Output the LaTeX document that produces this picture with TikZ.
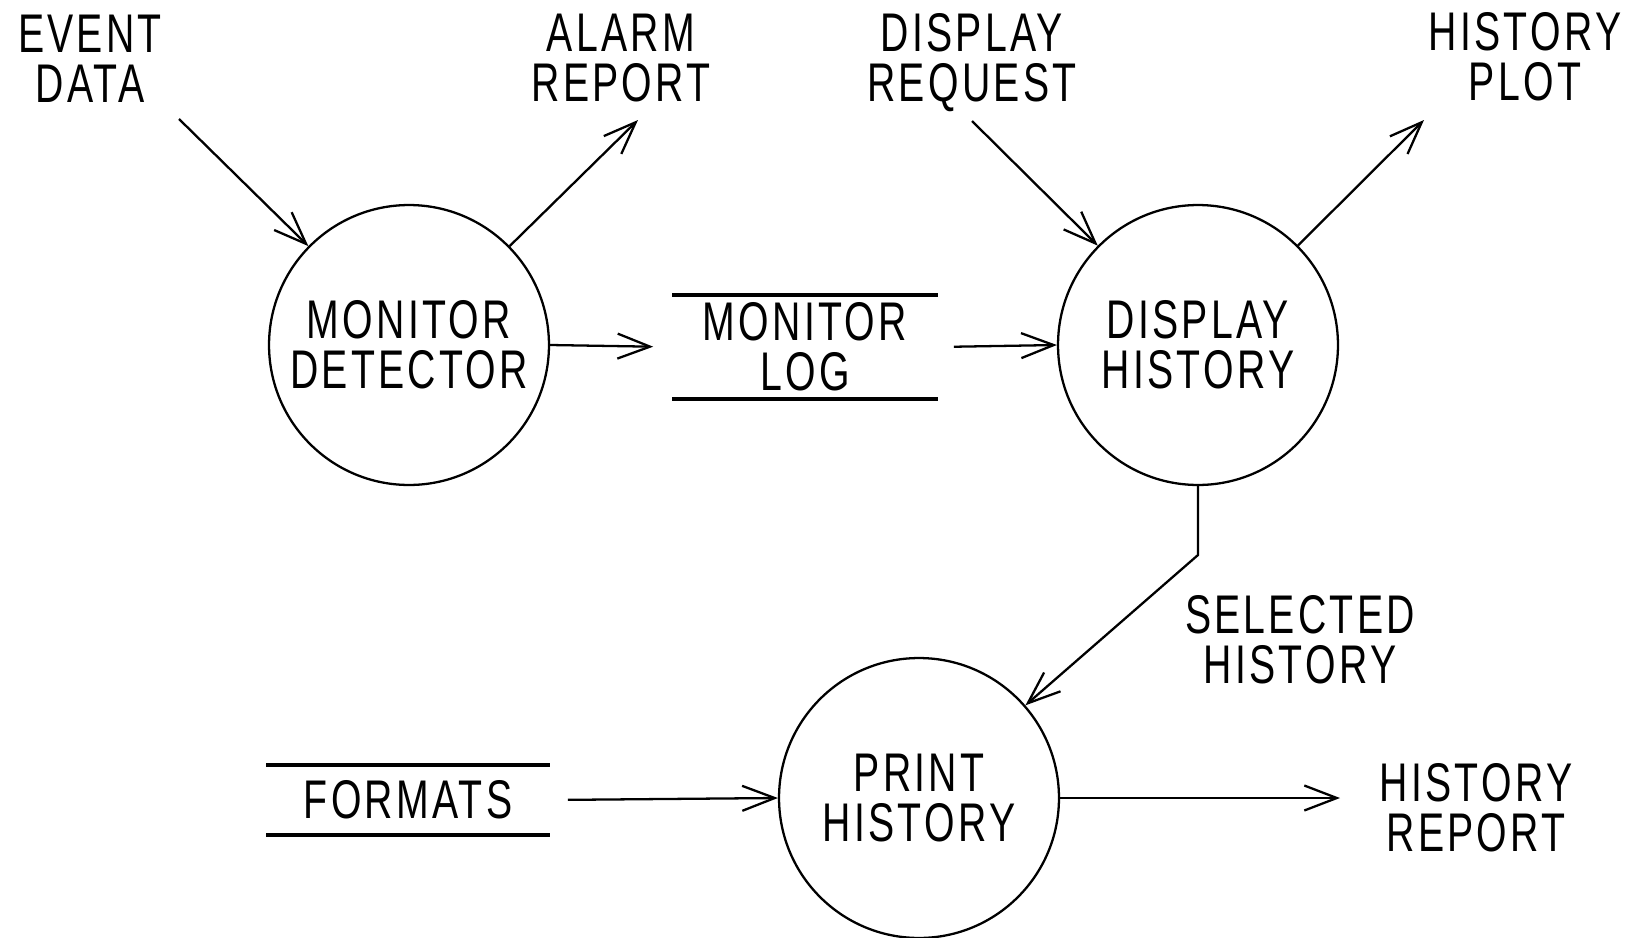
\documentclass[tikz,border=0pt]{standalone}
\usepackage{fontspec}
\setmainfont{Liberation Sans}[FakeStretch=0.72,LetterSpace=6]
\usetikzlibrary{arrows.meta}
\begin{document}
\begin{tikzpicture}[x=0.02cm,y=-0.02cm,
  every node/.style={font=\fontsize{31}{28.5}\selectfont, align=center, inner sep=0pt},
  proc/.style={circle, draw, line width=1.3pt, minimum size=5.6cm},
  store/.style={minimum width=5.3cm, minimum height=2.06cm},
  flow/.style={line width=1.3pt, -{Straight Barb[length=6.5mm,width=5mm,line width=1.3pt]}},
  rule/.style={line width=1.9pt}]
\useasboundingbox (0,0) rectangle (1647,937);

% processes
\node[proc] (mon) at (409,345) {MONITOR\\DETECTOR};
\node[proc] (disp) at (1198,345) {DISPLAY\\HISTORY};
\node[proc] (prt) at (919,798) {PRINT\\HISTORY};

% data stores
\node[store] (log) at (805,347) {MONITOR\\LOG};
\draw[rule] (log.north west) -- (log.north east);
\draw[rule] (log.south west) -- (log.south east);
\node[store, minimum width=5.66cm, minimum height=1.38cm] (fmt) at (408,800) {FORMATS};
\draw[rule] (fmt.north west) -- (fmt.north east);
\draw[rule] (fmt.south west) -- (fmt.south east);

% external flows
\node (ev) at (90,59) {EVENT\\DATA};
\node (al) at (621,58) {ALARM\\REPORT};
\node (rq) at (972,63) {DISPLAY\\REQUEST};
\node (pl) at (1525,57) {HISTORY\\PLOT};
\node (sel) at (1300,640) {SELECTED\\HISTORY};
\node (rep) at (1476,808) {HISTORY\\REPORT};

\coordinate (evEnd) at (179,119);
\coordinate (alEnd) at (638,120);
\coordinate (rqEnd) at (972,121);
\coordinate (plEnd) at (1424,120);
\coordinate (bend) at (1198,555);
\coordinate (repEnd) at (1340,798);

% connectors
\draw[flow] (evEnd) -- (mon);
\draw[flow] (mon) -- (alEnd);
\draw[flow, shorten >=0.38cm] (mon.east) -- (log.west);
\draw[flow, shorten <=0.32cm] (log.east) -- (disp.west);
\draw[flow] (rqEnd) -- (disp);
\draw[flow] (disp) -- (plEnd);
\draw[flow] (disp.south) -- (bend) -- (prt);
\draw[flow, shorten <=0.36cm] (fmt.east) -- (prt.west);
\draw[flow] (prt.east) -- (repEnd);
\end{tikzpicture}
\end{document}
